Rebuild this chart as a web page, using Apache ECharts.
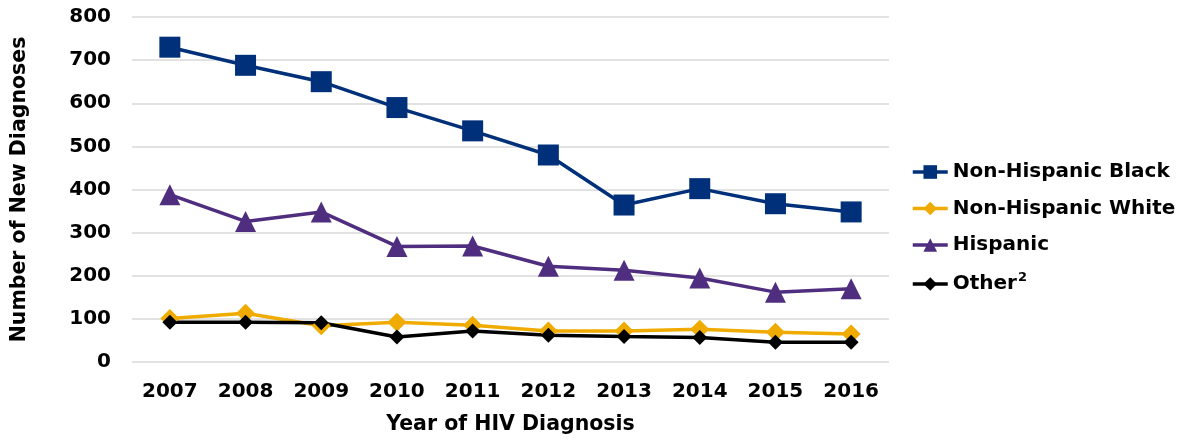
<!DOCTYPE html>
<html lang="en">
<head>
  <meta charset="UTF-8">
  <title>HIV Diagnoses</title>
  <script src="https://cdn.jsdelivr.net/npm/echarts@6/dist/echarts.min.js"></script>
</head>
<body style="margin:0">
  <div id="main" style="width:1186px;height:440px"></div>
  <script>
    const years = ['2007', '2008', '2009', '2010', '2011', '2012', '2013', '2014', '2015', '2016']
    const black = [730, 688, 650, 590, 536, 480, 364, 402, 367, 348]
    const white = [101, 113, 84, 92, 85, 72, 72, 76, 69, 65]
    const hispanic = [388, 326, 348, 268, 269, 222, 213, 195, 162, 170]
    const other = [92, 92, 91, 58, 72, 62, 59, 57, 46, 46]

    const font = 'DejaVu Sans, Arial, sans-serif'

    const myChart = echarts.init(document.getElementById('main'))

    function line(name, data, color, symbol, size) {
      return {
        name: name, type: 'line', data: data,
        symbol: symbol, symbolSize: size, showSymbol: true,
        lineStyle: { color: color, width: 3.5 },
        itemStyle: { color: color },
        animation: false
      }
    }

    myChart.setOption({
      grid: { left: 132, right: 297, top: 17, bottom: 77 },
      xAxis: {
        type: 'category', data: years,
        name: 'Year of HIV Diagnosis', nameLocation: 'middle', nameGap: 52,
        nameTextStyle: { fontFamily: font, fontWeight: 'bold', fontSize: 20.5, color: '#000' },
        axisLine: { show: false }, axisTick: { show: false },
        axisLabel: { fontFamily: font, fontWeight: 'bold', fontSize: 20, color: '#000', margin: 20 }
      },
      yAxis: {
        type: 'value', min: 0, max: 800, interval: 100,
        name: 'Number of New Diagnoses', nameLocation: 'middle', nameGap: 102,
        nameTextStyle: { fontFamily: font, fontWeight: 'bold', fontSize: 20.5, color: '#000' },
        axisLabel: { fontFamily: font, fontWeight: 'bold', fontSize: 20, color: '#000', margin: 21 },
        splitLine: { lineStyle: { color: '#d9d9d9', width: 1.5 } }
      },
      legend: {
        orient: 'vertical', left: 911, top: 162, padding: 0,
        itemWidth: 35, itemHeight: 17, itemGap: 16.5,
        lineStyle: { width: 3.5 },
        textStyle: {
          fontFamily: font, fontWeight: 'bold', fontSize: 20, color: '#000',
          rich: { sup: { fontFamily: font, fontWeight: 'bold', fontSize: 13, color: '#000', verticalAlign: 'top', padding: [0, 0, 12, 1] } }
        },
        formatter: function (n) { return n === 'Other' ? 'Other{sup|2}' : n },
        data: ['Non-Hispanic Black', 'Non-Hispanic White', 'Hispanic', 'Other']
      },
      series: [
        line('Non-Hispanic Black', black, '#003079', 'rect', 21),
        line('Non-Hispanic White', white, '#f0ab00', 'diamond', 19),
        line('Hispanic', hispanic, '#4f2d7f', 'triangle', 21),
        line('Other', other, '#000000', 'diamond', 15)
      ]
    })
  </script>
</body>
</html>
